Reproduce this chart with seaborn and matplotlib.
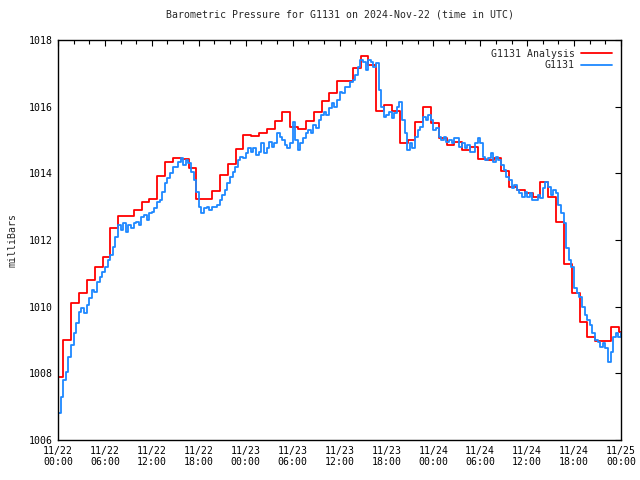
import numpy as np
import pandas as pd
import matplotlib
matplotlib.use("Agg")
import matplotlib.pyplot as plt
import matplotlib.dates as mdates
import seaborn as sns

# ---- data ----
start = "2024-11-22 00:00"
end = "2024-11-25 00:00"

# observations (G1131), every 20 minutes from 11/22 00:00 (one row per hour)
obs_step_min = 20
obs_values = [
    1006.8, 1007.3, 1007.8,
    1008.05, 1008.5, 1008.85,
    1009.2, 1009.5, 1009.85,
    1009.95, 1009.8, 1010.05,
    1010.25, 1010.5, 1010.45,
    1010.75, 1010.9, 1011.05,
    1011.2, 1011.4, 1011.55,
    1011.8, 1012.1, 1012.45,
    1012.3, 1012.5, 1012.25,
    1012.45, 1012.35, 1012.5,
    1012.55, 1012.45, 1012.7,
    1012.75, 1012.6, 1012.8,
    1012.85, 1012.95, 1013.15,
    1013.2, 1013.45, 1013.7,
    1013.85, 1014.0, 1014.2,
    1014.2, 1014.35, 1014.45,
    1014.25, 1014.4, 1014.3,
    1014.05, 1013.8, 1013.45,
    1013.0, 1012.8, 1012.95,
    1013.0, 1012.9, 1013.0,
    1013.0, 1013.05, 1013.2,
    1013.35, 1013.5, 1013.7,
    1013.9, 1014.05, 1014.2,
    1014.4, 1014.5, 1014.45,
    1014.6, 1014.75, 1014.65,
    1014.75, 1014.55, 1014.65,
    1014.9, 1014.6, 1014.75,
    1014.95, 1014.8, 1014.9,
    1015.2, 1015.1, 1015.0,
    1014.85, 1014.75, 1014.9,
    1015.55, 1015.0, 1014.7,
    1014.9, 1015.05, 1015.2,
    1015.3, 1015.2, 1015.45,
    1015.35, 1015.6, 1015.75,
    1015.85, 1015.75, 1015.95,
    1016.1, 1016.0, 1016.2,
    1016.45, 1016.4, 1016.6,
    1016.6, 1016.75, 1016.8,
    1016.95, 1017.2, 1017.4,
    1017.35, 1017.1, 1017.4,
    1017.35, 1017.2, 1017.3,
    1016.5, 1016.0, 1015.7,
    1015.75, 1015.85, 1015.65,
    1015.8, 1016.0, 1016.15,
    1015.6, 1015.2, 1014.7,
    1014.9, 1014.75, 1015.1,
    1015.3, 1015.4, 1015.7,
    1015.6, 1015.75, 1015.6,
    1015.3, 1015.35, 1015.1,
    1015.0, 1015.1, 1014.95,
    1015.0, 1014.9, 1015.05,
    1015.05, 1014.8, 1014.9,
    1014.75, 1014.85, 1014.65,
    1014.65, 1014.9, 1015.05,
    1014.9, 1014.5, 1014.4,
    1014.45, 1014.6, 1014.35,
    1014.5, 1014.4, 1014.25,
    1014.1, 1013.9, 1013.8,
    1013.55, 1013.65, 1013.5,
    1013.4, 1013.3, 1013.45,
    1013.3, 1013.4, 1013.2,
    1013.2, 1013.35, 1013.25,
    1013.55, 1013.75, 1013.6,
    1013.35, 1013.5, 1013.4,
    1013.05, 1012.8, 1012.5,
    1011.75, 1011.4, 1011.2,
    1010.55, 1010.4, 1010.3,
    1010.0, 1009.75, 1009.6,
    1009.45, 1009.2, 1009.0,
    1008.95, 1008.8, 1008.9,
    1008.75, 1008.35, 1008.65,
    1009.1, 1009.2, 1009.1,
    1009.2,
]

# analysis (G1131 Analysis), hourly values; value k holds from (k h - 18 min)
ana_lead_min = 18
ana_values = [
    1007.9, 1009.0, 1010.1, 1010.4, 1010.8, 1011.2, 1011.5, 1012.35, 1012.72, 1012.72,
    1012.9, 1013.13, 1013.22, 1013.92, 1014.33, 1014.46, 1014.43, 1014.15, 1013.22, 1013.22,
    1013.48, 1013.95, 1014.28, 1014.73, 1015.15, 1015.12, 1015.2, 1015.32, 1015.56, 1015.83,
    1015.38, 1015.33, 1015.57, 1015.83, 1016.18, 1016.4, 1016.78, 1016.78, 1017.15, 1017.52,
    1017.25, 1015.87, 1016.05, 1015.87, 1014.9, 1015.0, 1015.55, 1016.0, 1015.5, 1015.05,
    1014.85, 1014.95, 1014.7, 1014.8, 1014.42, 1014.4, 1014.45, 1014.08, 1013.6, 1013.5,
    1013.4, 1013.3, 1013.75, 1013.28, 1012.55, 1011.28, 1010.4, 1009.53, 1009.08, 1008.98,
    1008.97, 1009.38, 1009.25,
]

title = "Barometric Pressure for G1131 on 2024-Nov-22 (time in UTC)"
ylabel = "milliBars"
series_names = ["G1131 Analysis", "G1131"]
y_ticks = [1006, 1008, 1010, 1012, 1014, 1016, 1018]

# ---- build tables ----
t0 = pd.Timestamp(start)
t_end = pd.Timestamp(end)
obs_df = pd.DataFrame({
    "time": t0 + pd.to_timedelta(np.arange(len(obs_values)) * obs_step_min, unit="min"),
    "p": obs_values,
})
ana_times = [t0] + [t0 + pd.Timedelta(hours=k) - pd.Timedelta(minutes=ana_lead_min)
                    for k in range(1, len(ana_values))]
ana_df = pd.DataFrame({"time": ana_times + [t_end], "p": ana_values + [ana_values[-1]]})

# ---- plot ----
sns.set_theme(style="white")
plt.rcParams["font.family"] = ["DejaVu Sans Mono", "DejaVu Sans"]
plt.rcParams["axes.edgecolor"] = "black"
plt.rcParams["axes.linewidth"] = 1.0

fig = plt.figure(figsize=(6.4, 4.8), dpi=100)
ax = fig.add_axes([58 / 640, 40 / 480, (621 - 58) / 640, 400 / 480])

sns.lineplot(data=ana_df, x="time", y="p", ax=ax, color="#ff0000", lw=1.3,
             drawstyle="steps-post", label=series_names[0], sort=False, estimator=None)
sns.lineplot(data=obs_df, x="time", y="p", ax=ax, color="#1e88ff", lw=1.3,
             drawstyle="steps-post", label=series_names[1], sort=False, estimator=None)

ax.set_xlim(t0, t_end)
ax.set_ylim(y_ticks[0], y_ticks[-1])
ax.set_yticks(y_ticks)
ax.set_yticklabels([str(v) for v in y_ticks])
ax.xaxis.set_major_locator(mdates.HourLocator(byhour=[0, 6, 12, 18]))
ax.xaxis.set_minor_locator(mdates.HourLocator(interval=2))
ax.xaxis.set_major_formatter(mdates.DateFormatter("%m/%d\n%H:%M"))
ax.tick_params(axis="both", which="both", direction="in", top=True, right=True,
               labelsize=7.1, colors="black", width=0.8)
ax.tick_params(axis="both", which="major", length=4.5, pad=4)
ax.tick_params(axis="x", which="minor", length=3)
for s in ax.spines.values():
    s.set_visible(True)
    s.set_color("black")

ax.set_xlabel("")
ax.set_ylabel(ylabel, fontsize=7.1, labelpad=8)
ax.set_title(title, fontsize=7.1, pad=16)

leg = ax.legend(loc="upper right", frameon=False, markerfirst=False, fontsize=7.1,
                handlelength=3.2, handletextpad=0.6, labelspacing=0.15,
                borderaxespad=0.5)

fig.savefig("out.png", dpi=100)
